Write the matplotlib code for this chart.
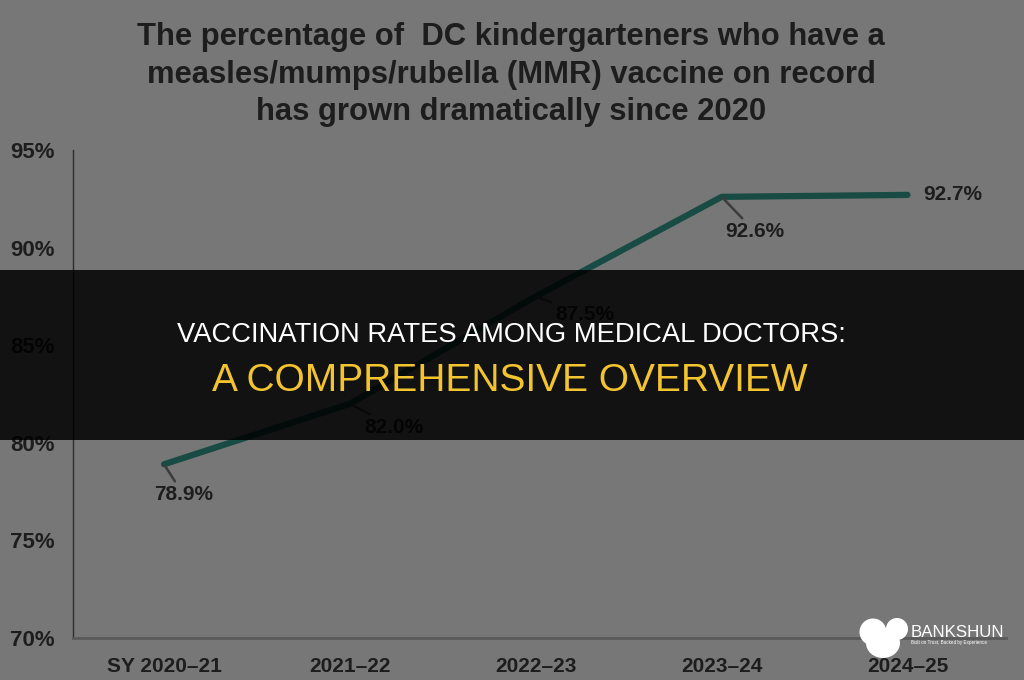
import matplotlib
matplotlib.use("Agg")
import matplotlib.pyplot as plt
from matplotlib.patches import Rectangle, Ellipse, Circle
from matplotlib.transforms import Affine2D

# chart data
years = ["SY 2020\u201321", "2021\u201322", "2022\u201323", "2023\u201324", "2024\u201325"]
mmr_pct = [78.9, 82.0, 87.5, 92.6, 92.7]
y_ticks = [70, 75, 80, 85, 90, 95]
title_lines = ["The percentage of  DC kindergarteners who have a",
               "measles/mumps/rubella (MMR) vaccine on record",
               "has grown dramatically since 2020"]
banner_top = "VACCINATION RATES AMONG MEDICAL DOCTORS:"
banner_bottom = "A COMPREHENSIVE OVERVIEW"

BG = "#777777"
INK = "#1d1d1d"
TEAL = "#174b44"

fig = plt.figure(figsize=(10.24, 6.8), dpi=100, facecolor=BG)
# pixel coords with origin at top-left
px = Affine2D().scale(1 / 1024, -1 / 680).translate(0, 1) + fig.transFigure

ax = fig.add_axes([73 / 1024, 1 - 638 / 680, (1006 - 73) / 1024, (638 - 150) / 680])
ax.set_facecolor(BG)
x = list(range(len(years)))
ax.plot(x, mmr_pct, color=TEAL, lw=4.5, solid_capstyle="round", solid_joinstyle="round")
ax.set_xlim(-0.49, 4.53)
ax.set_ylim(70, 95)
ax.set_yticks(y_ticks, [f"{v}%" for v in y_ticks])
ax.set_xticks(x, years)
ax.tick_params(axis="both", length=0, labelcolor=INK, labelsize=16)
ax.tick_params(axis="x", pad=14, labelsize=15)
ax.tick_params(axis="y", pad=13)
for lab in ax.get_xticklabels() + ax.get_yticklabels():
    lab.set_fontfamily("Liberation Sans")
    lab.set_fontweight("bold")
for s in ["top", "right"]:
    ax.spines[s].set_visible(False)
ax.spines["left"].set_color("#2c2c2c")
ax.spines["left"].set_linewidth(1)
ax.spines["bottom"].set_color("#5a5a5a")
ax.spines["bottom"].set_linewidth(2)

# value labels with leader lines
offsets = [(14, -22), (32, -17), (35, -13), (24, -25)]
for i, v in enumerate(mmr_pct):
    lab = f"{v:.1f}%"
    if i < len(offsets):
        ax.annotate(lab, (i, v), xytext=offsets[i], textcoords="offset points",
                    ha="center", va="center", fontsize=15, fontweight="bold",
                    family="Liberation Sans", color=INK,
                    arrowprops=dict(arrowstyle="-", color="#3c3c3c", lw=1.8,
                                    shrinkA=1, shrinkB=1))
    else:
        ax.annotate(lab, (i, v), xytext=(11, 0), textcoords="offset points",
                    ha="left", va="center", fontsize=15, fontweight="bold",
                    family="Liberation Sans", color=INK)

# title
for line, base in zip(title_lines, [45, 82.5, 120]):
    fig.text(511, base, line, transform=px, ha="center", va="baseline",
             fontsize=22.3, fontweight="bold", family="Liberation Sans", color=INK)

# banner overlay
fig.add_artist(Rectangle((0, 270), 1024, 170, transform=px, facecolor="black",
                         edgecolor="none", alpha=0.85, zorder=5))
fig.text(511, 335, banner_top, transform=px, ha="center", va="center",
         fontsize=19.7, family="Liberation Sans", color="white", zorder=6)
fig.text(510, 381, banner_bottom, transform=px, ha="center", va="center",
         fontsize=28, family="Liberation Sans", color="#f4c430", zorder=6)

# logo
for patch in [Circle((873, 632), 13.5), Circle((897, 629), 11), Ellipse((883, 643), 34, 30)]:
    patch.set_transform(px)
    patch.set_facecolor("white")
    patch.set_edgecolor("none")
    patch.set_zorder(6)
    fig.add_artist(patch)
fig.text(911, 637, "BANKSHUN", transform=px, ha="left", va="baseline",
         fontsize=12.2, family="Liberation Sans", color="white", zorder=6)
fig.text(911, 644, "Built on Trust, Backed by Experience", transform=px, ha="left",
         va="baseline", fontsize=3.3, family="Liberation Sans", color="white", zorder=6)

fig.savefig("out.png", dpi=100, facecolor=BG)
